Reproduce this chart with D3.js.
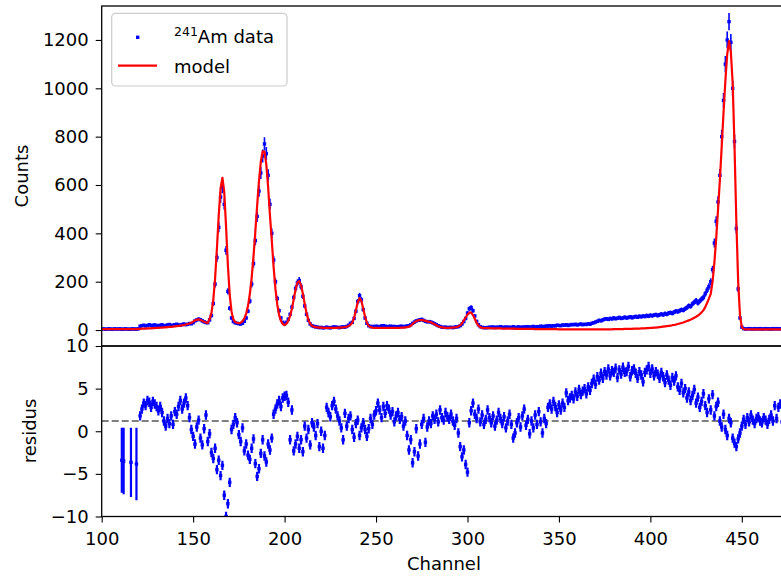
<!DOCTYPE html>
<html><head><meta charset="utf-8">
<script src="https://cdn.jsdelivr.net/npm/d3@7"></script>
<style>
body{margin:0;background:#fff;}
text{font-family:"DejaVu Sans",sans-serif;fill:#000;}
</style>
</head><body>
<svg id="c" width="781" height="578"></svg>
<script>
// ---------------- data ----------------
const countStart = 100; // channel of first value
const counts = [
  4,5,3,4,5,4,3,5,4,4,5,3,4,5,4,3,4,5,4,4,5,
  16,18,20,17,19,22,18,20,21,19, 17,20,22,18,19,21,23,19,20,22, 24,21,20,23,25,22,24,27,26,30,
  38,42,45,43,38,34,31,30,
  42,60,110,190,300,425,550,590,520,330,160,90,50,35,30,28,
  26,25,28,36,50,78,120,190,275,370,470,575,650,720,770,730,640,520,400,290,200,130,80,50,32,26,
  32,45,65,95,135,172,195,205,180,140,100,65,40,25,18,15,
  13,12,10,11,9,10,12,10,9,11,13,12,11,10,12,13,12,15,20,28,
  32,48,78,118,142,125,85,50,28,18,14,
  15,14,16,15,13,17,18,16,14,15,16,14,15,13,14,15,16,14,15,17,18,22,28,
  33,38,40,42,44,40,36,34,35,33,30,26,22,18,15,12,11,12,10,11,
  11,10,12,13,14,18,25,35,48,70,88,93,80,58,36,22,14,11,10,10,
  10,12,11,13,10,12,11,14,12,10, 13,11,12,10,14,8,12,13,11,12, 13,12,14,11,13,15,12,14,13,16,15,14,17,16,18,
  16,18,17,20,19,18,21,20,22,19,
  21,23,22,24,21,23,25,22,24,23,
  26,24,28,30,33,36,40,38,42,45,
  47,44,48,46,50,47,49,52,48,50,
  53,50,52,55,51,54,56,53,57,55,
  58,56,60,57,61,59,62,64,60,63,
  66,63,68,65,70,72,69,74,78,76,
  80,84,82,88,93,100,98,108,115,122,
  112,120,128,135,150,165,180,
  200,250,360,450,530,640,800,950,1100,1200,1276,1190,1000,780,420,170,50,12,6,
  4,5,6,5,4,6,5,5,6,4,5,6,5,5,4,6,5,6,5,5,6,5,4
];
const modelStart = 100;
const model = [
  4,4,4,4,4,4,4,4,4,4,4,4,4,4,4,4,4,4,4,4,
  5,5,6,6,6,7,7,7,8,8,
  9,9,10,10,11,11,12,13,13,14,
  15,16,17,18,19,21,23,25,27,30,
  35,40,43,44,42,38,34,31,30,
  46,71,124,214,338,476,587,630,571,427,267,145,76,44,33,30,
  28,30,37,48,68,100,149,217,305,407,516,617,696,739,738,685,591,474,370,260,170,105,62,38,25,20,
  26,38,58,88,128,168,196,202,185,150,108,70,42,26,18,14,
  12,11,10,10,9,9,9,9,9,9,9,9,10,10,10,11,12,14,17,22,
  30,50,82,115,132,120,88,55,30,17,12,
  10,9,9,9,9,9,9,9,9,9,9,9,9,9,9,9,10,10,11,12,14,18,25,
  32,37,40,41,41,40,38,36,34,32,28,24,20,16,13,11,10,9,9,9,
  10,10,11,12,15,20,28,40,52,64,72,72,62,46,30,18,12,9,8,8,
  8,8,7,7,7,7,7,7,6,6, 6,6,6,6,6,6,5,5,5,5, 5,5,5,5,5,5,4,4,4,4,4,4,4,4,4,
  4,4,4,4,3,3,3,3,3,3,
  3,3,3,3,3,3,3,3,3,3,
  3,3,3,3,3,3,3,3,3,3,
  3,3,3,3,4,4,4,4,4,4,
  5,5,5,5,5,6,6,6,6,7,
  7,7,8,8,9,9,10,10,11,12,
  13,14,15,16,17,18,20,21,23,25,
  27,29,31,34,37,40,43,47,51,55,
  60,66,73,82,95,112,130,
  150,200,280,380,500,620,760,900,1030,1140,1195,1150,1020,760,450,200,60,12,4,
  3,3,3,3,3,3,3,3,3,3,3,3,3,3,3,3,3,3,3,3,3,3,3
];
const residStart = 121;
const residuals = [
  1.8,2.6,3.3,3.0,3.6,3.4,2.8,3.5,3.2,2.9,
  2.4,2.9,2.2,1.2,0.6,1.5,0.9,1.8,0.8,2.3,
  2.0,2.9,3.6,2.6,3.3,3.9,3.0,1.6,0.2,-0.6,
  -1.5,0.5,1.3,-0.8,-1.6,0.3,1.9,-1.2,-0.3,-2.5,
  -3.2,-2.0,-4.5,-3.4,-5.2,-4.0,-7.5,-10.0,-8.5,-6.0,
  0.2,0.8,1.6,1.0,-0.4,-1.2,0.4,-2.3,-1.5,-2.8,
  -3.3,-2.0,-0.9,-3.8,-5.3,-4.4,-2.6,-1.0,-2.9,-3.6,
  -1.5,-2.2,-0.8,2.0,2.6,3.2,3.6,2.9,3.9,4.1,
  4.2,3.4,-1.0,2.5,-2.3,-1.5,-0.6,-2.0,-1.0,-2.4,
  0.6,-0.8,0.2,-1.6,1.0,0.5,-0.5,0.9,-1.8,0.0,
  -2.0,-0.5,2.8,2.2,1.7,3.0,3.5,2.6,1.8,1.2,
  0.4,-1.0,2.1,0.6,1.5,1.8,0.2,-0.7,0.9,1.3,
  -0.5,0.4,1.0,0.2,-0.6,0.3,1.5,0.8,1.9,2.4,
  3.3,2.5,1.6,2.9,2.1,3.0,2.6,1.9,2.3,1.1,
  1.8,2.2,1.4,1.7,0.6,1.2,-0.5,-2.2,-1.0,-3.7,
  -2.4,0.3,-2.9,-1.5,0.8,1.5,-1.3,0.5,1.2,0.9,
  1.8,1.4,2.0,1.1,2.5,1.6,1.3,2.2,1.7,1.4,
  2.0,1.2,0.7,1.5,-0.2,-1.8,-3.0,-2.2,-3.9,-4.8,
  1.0,2.4,3.3,2.0,1.5,2.6,1.1,1.9,0.8,1.4,
  2.5,1.6,1.0,1.8,0.6,1.3,2.2,1.5,0.9,1.7,
  0.4,1.2,2.0,0.8,-0.8,-0.2,1.0,1.6,0.5,1.8,
  2.6,0.7,1.4,-0.3,1.2,0.4,1.9,0.8,2.3,1.1,
  -0.2,1.5,0.9,2.8,3.2,2.6,3.5,2.9,2.2,3.1,
  2.5,3.3,2.8,4.5,3.6,3.9,4.2,3.8,4.6,4.1,
  4.9,4.3,4.7,5.0,4.4,5.2,4.8,5.6,6.1,5.5,
  6.4,6.0,6.8,6.2,7.0,6.6,7.3,6.5,7.1,6.9,
  7.4,6.3,7.2,6.7,7.5,6.9,7.0,7.6,6.4,7.1,
  7.3,6.8,6.2,7.0,6.6,5.8,6.9,7.2,7.6,6.8,
  7.3,6.5,7.0,6.7,6.2,6.9,6.4,5.7,6.6,6.0,
  5.4,6.3,5.9,6.5,5.2,4.8,5.6,4.5,5.0,3.9,
  4.6,3.6,4.2,4.9,3.3,4.0,2.8,3.5,4.4,3.0,
  2.2,3.8,2.5,4.3,1.8,2.9,3.4,1.2,0.5,2.0,
  0.2,-0.5,1.5,1.0,-0.8,-1.4,-1.8,-0.9,-0.2,0.6,
  1.4,0.8,1.6,1.1,1.9,1.3,0.9,1.5,1.7,1.2,
  1.0,1.6,1.3,0.8,1.4,1.9,1.2,3.0,1.5,2.8,
  3.2,1.1
];
const residErr = 0.55;
const outlierChannels  = [111, 112, 116, 119];
const outlierResiduals = [-3.4, -3.5, -3.65, -3.85];
const outlierErrors    = [3.8, 3.9, 4.05, 4.25];
const refLevel = 1.2;
const xTicks = [100,150,200,250,300,350,400,450];
const countTicks = [0,200,400,600,800,1000,1200];
const residTicks = [-10,-5,0,5,10];

// ---------------- drawing ----------------
const svg = d3.select("#c");
const FS = 18;
const L = 101.7, R = 787;
const x = d3.scaleLinear().domain([100, 474.7]).range([L, R]);
const yTop = d3.scaleLinear().domain([-66, 1340.5]).range([346, 6]);
const yBot = d3.scaleLinear().domain([-10, 10]).range([516.5, 346]);

const defs = svg.append("defs");
defs.append("clipPath").attr("id","clipTop").append("rect")
  .attr("x",L).attr("y",6).attr("width",R-L).attr("height",340);
defs.append("clipPath").attr("id","clipBot").append("rect")
  .attr("x",L).attr("y",346).attr("width",R-L).attr("height",170.5);

const blue = "#0000ff", red = "#ff0000";

// top panel data
const dataPts = counts.map((v,i)=>({c: countStart+i, v, e: Math.sqrt(v)}));
const gTop = svg.append("g").attr("clip-path","url(#clipTop)");
gTop.selectAll("line.err").data(dataPts).join("line")
  .attr("x1",d=>x(d.c)).attr("x2",d=>x(d.c))
  .attr("y1",d=>yTop(d.v-d.e)).attr("y2",d=>yTop(d.v+d.e))
  .attr("stroke",blue).attr("stroke-width",1.6);
gTop.selectAll("rect").data(dataPts).join("rect")
  .attr("x",d=>x(d.c)-1.7).attr("y",d=>yTop(d.v)-1.7).attr("width",3.4).attr("height",3.4).attr("fill",blue);
const modelPts = model.map((v,i)=>({c: modelStart+i, v}));
gTop.append("path").datum(modelPts)
  .attr("d", d3.line().x(d=>x(d.c)).y(d=>yTop(d.v)))
  .attr("fill","none").attr("stroke",red).attr("stroke-width",2.2)
  .attr("stroke-linejoin","round");

// bottom panel
const gBot = svg.append("g").attr("clip-path","url(#clipBot)");
gBot.append("line").attr("x1",L).attr("x2",R)
  .attr("y1",yBot(refLevel)).attr("y2",yBot(refLevel))
  .attr("stroke","#7f7f7f").attr("stroke-width",1.8).attr("stroke-dasharray","7,3");
const resPts = residuals.map((v,i)=>({c: residStart+i, v, e: residErr}))
  .concat(outlierChannels.map((c,i)=>({c, v: outlierResiduals[i], e: outlierErrors[i]})));
gBot.selectAll("line.err").data(resPts).join("line")
  .attr("x1",d=>x(d.c)).attr("x2",d=>x(d.c))
  .attr("y1",d=>yBot(d.v-d.e)).attr("y2",d=>yBot(d.v+d.e))
  .attr("stroke",blue).attr("stroke-width",2.2);
gBot.selectAll("rect").data(resPts).join("rect")
  .attr("x",d=>x(d.c)-1.7).attr("y",d=>yBot(d.v)-1.7).attr("width",3.4).attr("height",3.4).attr("fill",blue);

// axes
function styleAxis(g){
  g.select(".domain").remove();
  g.selectAll(".tick line").attr("stroke","#000").attr("stroke-width",1.1);
  g.selectAll(".tick text").attr("font-size",FS).attr("font-family","DejaVu Sans, sans-serif").attr("fill","#000");
}
svg.append("g").attr("transform",`translate(${L},0)`)
  .call(d3.axisLeft(yTop).tickValues(countTicks).tickSize(6).tickPadding(7).tickFormat(d3.format("d")))
  .call(styleAxis);
svg.append("g").attr("transform",`translate(${L},0)`)
  .call(d3.axisLeft(yBot).tickValues(residTicks).tickSize(6).tickPadding(7).tickFormat(d3.format("d")))
  .call(styleAxis);
svg.append("g").attr("transform",`translate(0,${yBot.range()[0]})`)
  .call(d3.axisBottom(x).tickValues(xTicks).tickSize(6).tickPadding(10).tickFormat(d3.format("d")))
  .call(styleAxis);

// frames
const frame = svg.append("g").attr("fill","none").attr("stroke","#000").attr("stroke-width",1.3);
frame.append("rect").attr("x",L).attr("y",6).attr("width",R-L).attr("height",340);
frame.append("rect").attr("x",L).attr("y",346).attr("width",R-L).attr("height",170.5);

// axis labels
svg.append("text").attr("transform","translate(28,176) rotate(-90)")
  .attr("text-anchor","middle").attr("font-size",FS).text("Counts");
svg.append("text").attr("transform","translate(36,431) rotate(-90)")
  .attr("text-anchor","middle").attr("font-size",FS).text("residus");
svg.append("text").attr("x",444).attr("y",570)
  .attr("text-anchor","middle").attr("font-size",FS).text("Channel");

// legend
const lg = svg.append("g");
lg.append("rect").attr("x",111.7).attr("y",13.3).attr("width",175.3).attr("height",72.7)
  .attr("rx",4).attr("fill","#fff").attr("fill-opacity",0.8)
  .attr("stroke","#cccccc").attr("stroke-width",1.2);
lg.append("rect").attr("x",136).attr("y",35.6).attr("width",3.4).attr("height",3.4).attr("fill",blue);
const t1 = lg.append("text").attr("x",174).attr("y",43.3).attr("font-size",FS);
t1.append("tspan").attr("font-size",12.5).attr("dy",-7).text("241");
t1.append("tspan").attr("dy",7).text("Am data");
lg.append("line").attr("x1",118).attr("x2",157).attr("y1",65.7).attr("y2",65.7)
  .attr("stroke",red).attr("stroke-width",2.2);
lg.append("text").attr("x",174).attr("y",72.5).attr("font-size",FS).text("model");
</script>
</body></html>
